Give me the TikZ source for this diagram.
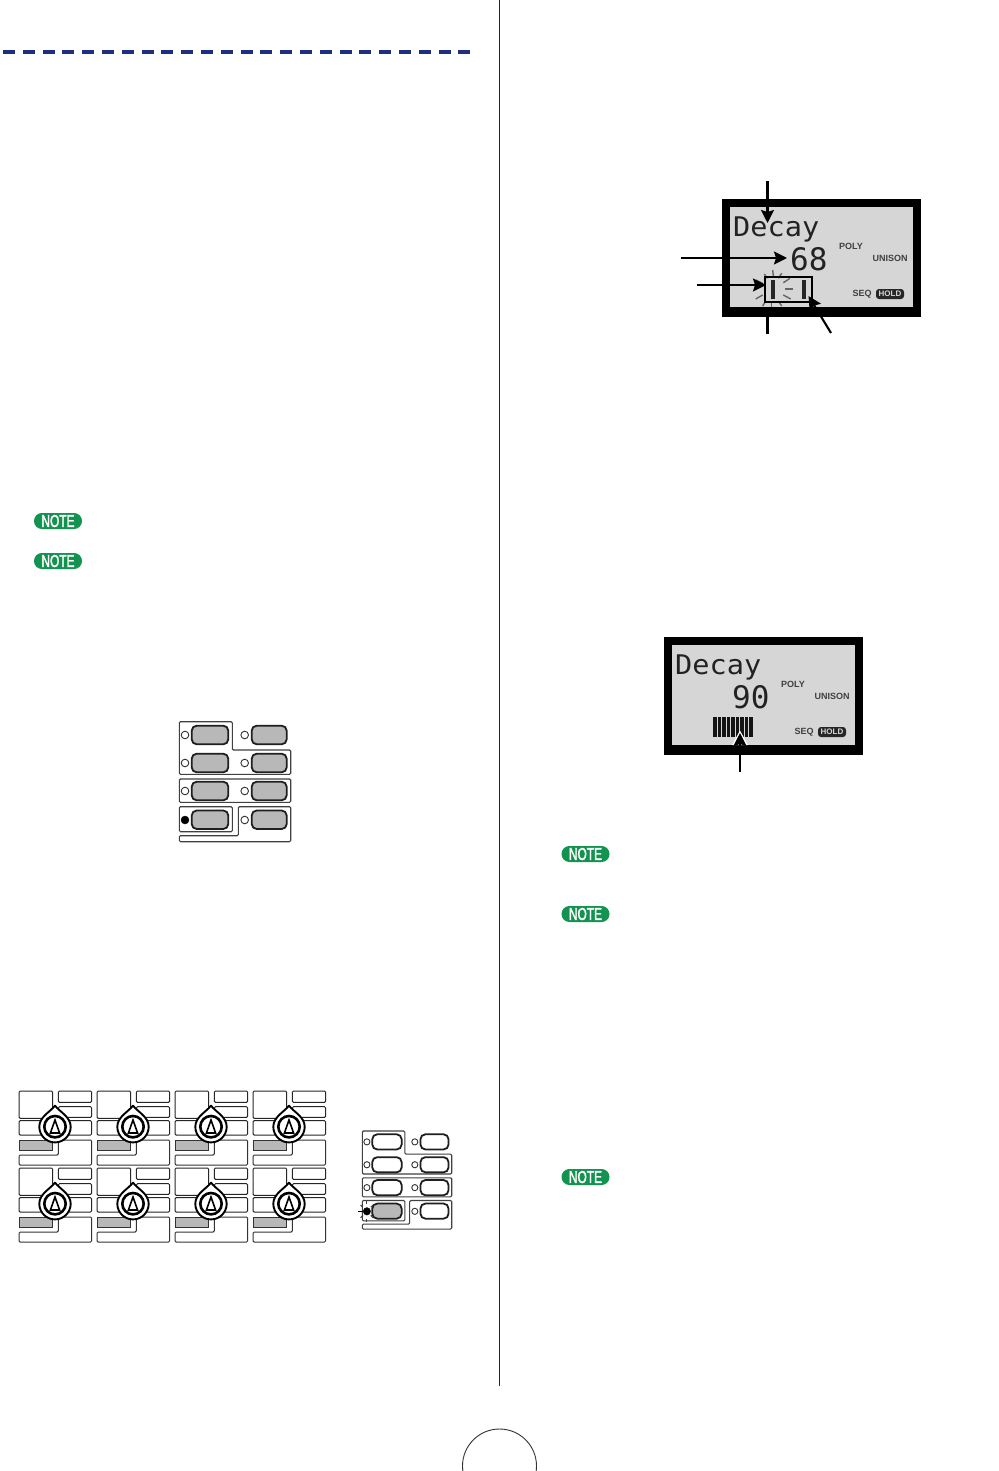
\documentclass[tikz,border=0pt]{standalone}
\usepackage{fontspec}
\setmainfont{Liberation Sans}
\newfontfamily\lcdfont{DejaVu Sans Mono}
\newfontfamily\notefont[FakeBold=2.2]{Liberation Sans}
\usetikzlibrary{arrows.meta}
\definecolor{navydash}{HTML}{1F2F7F}
\definecolor{notegreen}{HTML}{12934F}
\definecolor{btngray}{HTML}{B8B8B8}
\definecolor{lcdgray}{HTML}{D6D6D6}
\definecolor{lcdink}{HTML}{222222}
\tikzset{
  x=1pt,y=-1pt,
  pageline/.style={draw=black!85,line width=1.2},
  callout/.style={draw=black,line width=2.1,-{Stealth[length=13,width=13,inset=2]}},
  calloutplain/.style={draw=black,line width=2.1},
  notebadge/.style={fill=notegreen,rounded corners=7.9,minimum width=48,minimum height=16,inner sep=0,text=white,font=\notefont\fontsize{13}{13}\selectfont},
  lcdsmall/.style={font=\bfseries\fontsize{9}{9}\selectfont,text=black!75,inner sep=0},
  lcdbig/.style={font=\lcdfont\fontsize{26}{26}\selectfont,text=lcdink,inner sep=0},
  lcdnum/.style={font=\lcdfont\fontsize{31}{31}\selectfont,text=lcdink,inner sep=0},
  holdpill/.style={fill=black!85,rounded corners=3,minimum width=28,minimum height=10,inner sep=0,text=lcdgray,font=\bfseries\fontsize{8}{8}\selectfont},
  panelline/.style={draw=black!75,line width=1.1,rounded corners=1.2,fill=white},
  knobline/.style={draw=black!85,line width=1,rounded corners=1.2,fill=white},
  knobinner/.style={draw=black!80,line width=1,rounded corners=1.2,fill=white},
  ray/.style={draw=black!60,line width=1.4},
  graybtn/.style={draw=black!88,line width=1.8,fill=btngray,rounded corners=5},
  whitebtn/.style={draw=black!88,line width=1.8,fill=white,rounded corners=5},
  led/.style={draw=black!80,line width=0.9,fill=white},
}
\newcommand{\notetext}{\scalebox{0.92}[1.32]{NOTE}}
% face panel of eight buttons; #1 = style of row-4 left button, #2 = the other buttons
\newcommand{\btnpanel}[2]{%
  \path[panelline] (179.3,721.7)--(232.3,721.7)--(232.3,750)--(290.7,750)--(290.7,774.3)--(179.3,774.3)--cycle;
  \path[panelline] (179.3,779)--(290.7,779)--(290.7,802.3)--(179.3,802.3)--cycle;
  \path[panelline] (179.3,806.7)--(232.3,806.7)--(232.3,831.7)--(179.3,831.7)--cycle;
  \path[panelline] (238.3,806.7)--(290.7,806.7)--(290.7,841.7)--(179.3,841.7)--(179.3,835.7)--(238.3,835.7)--cycle;
  \foreach \ry in {735,763,791}{
    \path[#2] (191.7,\ry-9.3) rectangle (228.3,\ry+9.3);
    \path[#2] (251.7,\ry-9.3) rectangle (286.7,\ry+9.3);
    \path[led] (185,\ry) ellipse (3.8 and 3.8);
    \path[led] (244.7,\ry) ellipse (3.8 and 3.8);
  }
  \path[#1] (191.7,810.5) rectangle (228.3,829);
  \path[#2] (251.7,810.5) rectangle (286.7,829);
  \path[led] (244.7,820) ellipse (3.8 and 3.8);
}
% one selector cell with its knob, origin at the cell's top-left corner
\newcommand{\knobcell}[2]{%
  \begin{scope}[shift={(#1,#2)}]
    \path[knobline] (0,0)--(33.7,0)--(33.7,27.3)--(0,27.3)--cycle;
    \path[knobline] (39.3,0)--(72.7,0)--(72.7,11.3)--(39.3,11.3)--cycle;
    \path[knobline] (39.3,15.7)--(72.7,15.7)--(72.7,26.3)--(39.3,26.3)--cycle;
    \path[knobline] (0,29.7)--(72.7,29.7)--(72.7,44)--(0,44)--cycle;
    \path[knobinner,fill=btngray,rounded corners=0] (0,49)--(33.7,49)--(33.7,59)--(0,59)--cycle;
    \path[knobinner] (39.3,49)--(72.7,49)--(72.7,74)--(0,74)--(0,64)--(39.3,64)--cycle;
    % droplet
    \path[draw=black,line width=1.9,fill=white,line join=round] (36,14.7)
      .. controls (41,21) and (51.7,26) .. (51.7,35.7)
      .. controls (51.7,44.4) and (44.7,51.4) .. (36,51.4)
      .. controls (27.3,51.4) and (20.3,44.4) .. (20.3,35.7)
      .. controls (20.3,26) and (31,21) .. cycle;
    \draw[black,line width=2.6] (36,35.7) circle (10.7);
    \draw[black,line width=1.6,line join=miter] (36,29)--(40.6,42)--(31.4,42)--cycle;
  \end{scope}
}
\begin{document}
\begin{tikzpicture}
\useasboundingbox (0,0) rectangle (998,1471);
\fill[white] (0,0) rectangle (998,1471);

% page furniture
\coordinate (ruleL) at (3,52);
\coordinate (ruleR) at (470,52);
\draw[navydash,line width=4,dash pattern=on 12 off 7.8] (ruleL)--(ruleR);
\coordinate (colTop) at (499.5,0);
\coordinate (colBot) at (499.5,1386);
\draw[pageline] (colTop)--(colBot);
\begin{scope}
  \clip (450,1420) rectangle (550,1471);
  \draw[black!80,line width=0.9] (499.5,1466) circle (37);
\end{scope}

% note badges
\node[notebadge] (noteA) at (58,521) {\notetext};
\node[notebadge] (noteB) at (58,561) {\notetext};
\node[notebadge] (noteC) at (585.5,854) {\notetext};
\node[notebadge] (noteD) at (585.5,914) {\notetext};
\node[notebadge] (noteE) at (585.5,1177) {\notetext};

% LCD, upper
\fill[black] (722,199) rectangle (921,317);
\fill[lcdgray] (730,207) rectangle (913,307);
\node[lcdbig,anchor=base west] (dispA) at (733,236.5) {\scalebox{1.1}[1.04]{Decay}};
\node[lcdnum,anchor=base west] (valA) at (790,270) {68};
\node[lcdsmall] (polyA) at (851,246.5) {POLY};
\node[lcdsmall] (uniA) at (890,258.5) {UNISON};
\node[lcdsmall] (seqA) at (862,294.5) {SEQ};
\node[holdpill] (holdA) at (890,294) {HOLD};
\foreach \ax/\ay/\bx/\by in {
  772.7/270/773.3/276, 764.3/274/767.3/278.3, 781.7/273.3/778.3/278.3,
  755.7/299/762.7/295, 755.7/280/762.7/283.5, 783.3/282.7/790/278.3, 783.3/295/790.7/299,
  762.7/306/765.7/301, 771.7/302/771.7/307, 778.3/301/781.7/306}{
  \draw[ray] (\ax,\ay)--(\bx,\by);
}
\node[draw=black,line width=2,minimum width=46.5,minimum height=25.5,inner sep=0] (selBox) at (788.5,289.5) {};
\fill[black!85] (770.7,280) rectangle (775,299);
\fill[black!85] (802,280) rectangle (806.3,299);
\fill[black!60] (785,288.2) rectangle (793,290);
\coordinate (a1s) at (767.5,181); \coordinate (a1e) at (767.5,223);
\coordinate (a2s) at (681,258);   \coordinate (a2e) at (787,258);
\coordinate (a3s) at (697,285);   \coordinate (a3e) at (766,285);
\coordinate (a4s) at (767.5,317); \coordinate (a4e) at (767.5,334);
\coordinate (a5s) at (831,333);   \coordinate (a5e) at (808.5,296);
\draw[callout] (a1s)--(a1e);
\draw[callout] (a2s)--(a2e);
\draw[callout] (a3s)--(a3e);
\draw[calloutplain] (a4s)--(a4e);
\draw[callout] (a5s)--(a5e);

% LCD, lower
\fill[black] (664,637) rectangle (863,755);
\fill[lcdgray] (672,645) rectangle (855,745);
\node[lcdbig,anchor=base west] (dispB) at (675,674.5) {\scalebox{1.1}[1.04]{Decay}};
\node[lcdnum,anchor=base west] (valB) at (732,708) {90};
\node[lcdsmall] (polyB) at (793,684.5) {POLY};
\node[lcdsmall] (uniB) at (832,696.5) {UNISON};
\node[lcdsmall] (seqB) at (804,732.5) {SEQ};
\node[holdpill] (holdB) at (832,732) {HOLD};
\foreach \k in {0,...,8}{
  \fill[black!92] (713+\k*4.5,717) rectangle (716.5+\k*4.5,737);
}
\coordinate (b1s) at (740,772); \coordinate (b1e) at (740,733);
\fill[white] (740,730.5) -- (748,745) -- (732,745) -- cycle;
\draw[callout] (b1s)--(b1e);

% button panel, middle of left column
\btnpanel{graybtn}{graybtn}
\path[draw=black,fill=black] (185,820) circle (4);

% knob matrix
\foreach \cy in {1091,1168}{
  \foreach \cx in {19,97,175,253}{
    \knobcell{\cx}{\cy}
  }
}

% button panel, small, flashing
\begin{scope}[shift={(362.3,1131)},xscale=0.803,yscale=0.817,shift={(-179.3,-721.7)}]
  \btnpanel{graybtn}{whitebtn}
  \path[draw=black,fill=black] (185,820) circle (4.6);
  \foreach \a in {45,135,...,315}{
    \draw[black!75,line width=1.1] (185,820)++(\a:7)--++(\a:4);
  }
  \draw[black!75,line width=1.1] (185,811)--(185,807.5);
  \draw[black!75,line width=1.1] (185,829)--(185,832.5);
  \draw[black,line width=1.1] (180.5,820)--(174.3,820);
\end{scope}
\end{tikzpicture}
\end{document}
